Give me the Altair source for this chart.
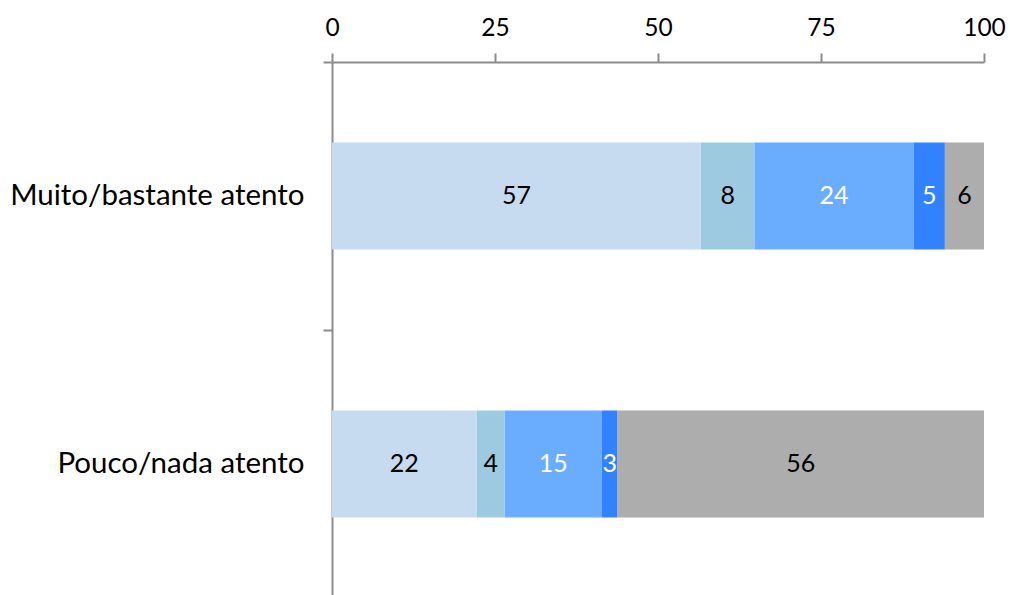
import altair as alt
import pandas as pd

categories = ["Muito/bastante atento", "Pouco/nada atento"]
segments = ["Seg 1", "Seg 2", "Seg 3", "Seg 4", "Seg 5"]
colors = ["#c6dbef", "#9ecae1", "#6aadff", "#3282ff", "#adadad"]
text_colors = ["black", "black", "white", "white", "black"]
values_muito = [56.6, 8.2, 24.4, 4.8, 6.0]
values_pouco = [22.2, 4.3, 14.9, 2.4, 56.2]
labels_muito = ["57", "8", "24", "5", "6"]
labels_pouco = ["22", "4", "15", "3", "56"]

rows = []
for cat, vals, labs in [(categories[0], values_muito, labels_muito),
                        (categories[1], values_pouco, labels_pouco)]:
    for i, (s, v, l) in enumerate(zip(segments, vals, labs)):
        rows.append({"cat": cat, "seg": s, "order": i, "value": v,
                     "label": l, "tcolor": text_colors[i]})
df = pd.DataFrame(rows)

FONT = "Lato"
AXIS_COLOR = "#8c8c8c"

base = alt.Chart(df).transform_stack(
    stack="value", groupby=["cat"], sort=[alt.SortField("order")], as_=["x0", "x1"]
).transform_calculate(mid="(datum.x0 + datum.x1) / 2")

yscale = alt.Scale(type="band", domain=categories, paddingInner=0.6, paddingOuter=0.3)
ystep = alt.Scale(type="band", domain=categories, paddingInner=0, paddingOuter=0)
xscale = alt.Scale(domain=[0, 100], nice=False)
xaxis = alt.Axis(orient="top", values=[0, 25, 50, 75, 100], title=None,
                 grid=False, labelFontSize=24.5, labelFont=FONT,
                 labelColor="black", tickSize=9, tickColor=AXIS_COLOR,
                 tickWidth=2, domainColor=AXIS_COLOR, domainWidth=2,
                 labelPadding=13, labelFlush=False)

bars = base.mark_bar().encode(
    x=alt.X("x0:Q", scale=xscale, axis=xaxis),
    x2="x1:Q",
    y=alt.Y("cat:N", scale=yscale, sort=categories,
            axis=alt.Axis(orient="left", title=None, ticks=False, domain=True,
                          domainColor=AXIS_COLOR, domainWidth=2, labelFontSize=29.5,
                          labelFont=FONT, labelColor="black", labelPadding=28,
                          labelLimit=0)),
    color=alt.Color("seg:N", scale=alt.Scale(domain=segments, range=colors), legend=None),
    order=alt.Order("order:Q"),
)

ticks_layer = base.mark_bar(opacity=0).encode(
    y=alt.Y("cat:N", scale=ystep, sort=categories,
            axis=alt.Axis(orient="left", title=None, labels=False, domain=False,
                          ticks=True, bandPosition=0, tickSize=9,
                          tickColor=AXIS_COLOR, tickWidth=2)),
)

texts = base.mark_text(font=FONT, fontSize=25, baseline="middle", align="center").encode(
    x=alt.X("mid:Q", scale=xscale, axis=xaxis),
    y=alt.Y("cat:N", scale=yscale, sort=categories, axis=None),
    text="label:N",
    color=alt.Color("tcolor:N", scale=None),
)

chart = alt.layer(bars, ticks_layer, texts).resolve_scale(y="independent").properties(
    width=652, height=536,
    background="white",
    autosize=alt.AutoSizeParams(type="none"),
    padding={"left": 332, "top": 62, "right": 26, "bottom": 0},
).configure_view(stroke="transparent", strokeWidth=0)

chart.save("out.html", embed_options={"renderer": "svg", "actions": False})
